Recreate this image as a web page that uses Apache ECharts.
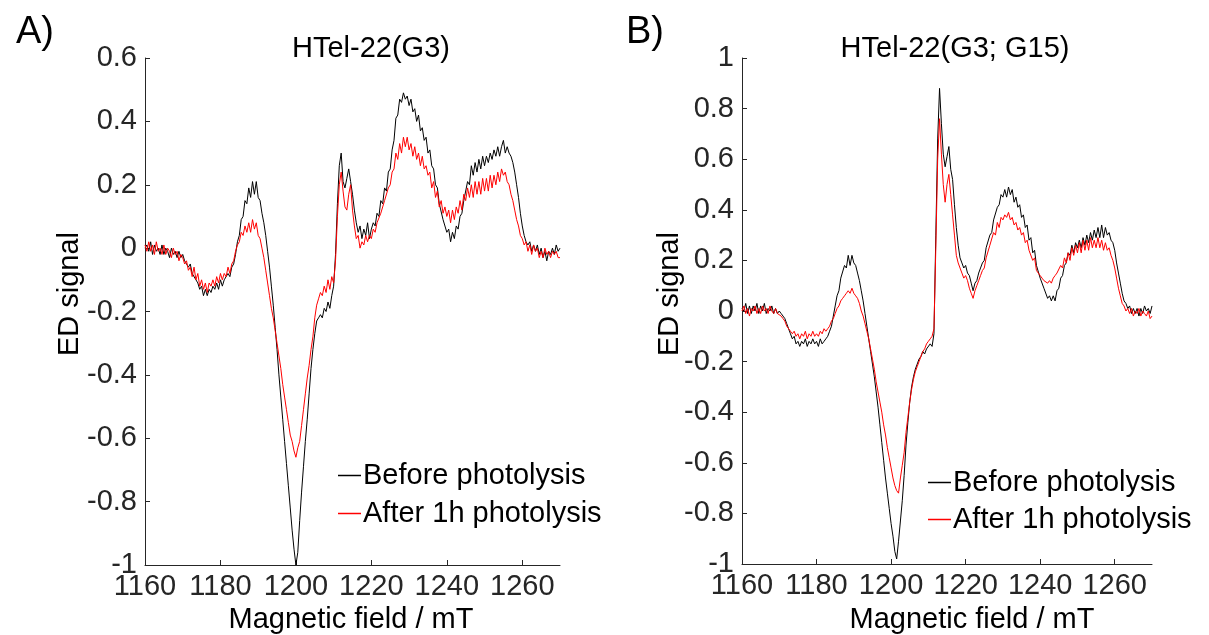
<!DOCTYPE html>
<html><head><meta charset="utf-8">
<script src="https://cdn.jsdelivr.net/npm/echarts@6/dist/echarts.min.js"></script>
<style>html,body{margin:0;padding:0;background:#fff}#c{width:1209px;height:635px}</style>
</head><body><div id="c"></div>
<script>
// ---- data (ED signal vs magnetic field, 0.5 mT sampling from 1160 mT) ----
const FIELD_START = 1160;
const FIELD_STEP = 0.5;
const X_TICKS = [1160, 1180, 1200, 1220, 1240, 1260];
const SERIES_NAMES = ['Before photolysis', 'After 1h photolysis'];
const TITLE_A = 'HTel-22(G3)';
const TITLE_B = 'HTel-22(G3; G15)';

const A_BEFORE = [
 0.00, 0.01, -0.01, 0.02, -0.02, 0.01, -0.01, 0.00, -0.02, 0.01,
 -0.02, 0.00, -0.01, -0.03, 0.00, -0.02, -0.01, -0.03, -0.01, -0.03,
 -0.02, -0.04, -0.04, -0.06, -0.05, -0.08, -0.08, -0.10, -0.11, -0.13,
 -0.12, -0.15, -0.13, -0.15, -0.13, -0.14, -0.12, -0.13, -0.11, -0.13,
 -0.10, -0.12, -0.10, -0.10, -0.08, -0.09, -0.06, -0.05, -0.02, 0.02,
 0.04, 0.09, 0.10, 0.15, 0.14, 0.19, 0.16, 0.21, 0.17, 0.21,
 0.16, 0.15, 0.11, 0.08, 0.04, -0.01, -0.06, -0.12, -0.18, -0.25,
 -0.32, -0.40, -0.47, -0.54, -0.61, -0.68, -0.75, -0.82, -0.89, -0.95,
 -1.00, -0.96, -0.86, -0.77, -0.69, -0.61, -0.54, -0.46, -0.38, -0.32,
 -0.27, -0.23, -0.22, -0.21, -0.22, -0.19, -0.20, -0.17, -0.19, -0.15,
 -0.12, -0.02, 0.14, 0.26, 0.30, 0.21, 0.19, 0.22, 0.25, 0.21,
 0.17, 0.12, 0.08, 0.05, 0.07, 0.03, 0.06, 0.04, 0.08, 0.03,
 0.06, 0.08, 0.07, 0.11, 0.10, 0.15, 0.14, 0.19, 0.18, 0.24,
 0.25, 0.31, 0.34, 0.41, 0.42, 0.47, 0.46, 0.49, 0.47, 0.48,
 0.45, 0.47, 0.43, 0.44, 0.40, 0.42, 0.37, 0.38, 0.34, 0.35,
 0.30, 0.31, 0.26, 0.25, 0.20, 0.19, 0.14, 0.14, 0.09, 0.09,
 0.05, 0.06, 0.02, 0.05, 0.03, 0.07, 0.06, 0.10, 0.11, 0.15,
 0.15, 0.21, 0.20, 0.26, 0.23, 0.27, 0.24, 0.28, 0.25, 0.29,
 0.26, 0.29, 0.27, 0.30, 0.28, 0.31, 0.29, 0.32, 0.29, 0.32,
 0.34, 0.30, 0.32, 0.30, 0.29, 0.27, 0.24, 0.20, 0.16, 0.11,
 0.07, 0.04, 0.02, 0.01, 0.02, -0.01, 0.01, -0.01, 0.01, -0.02,
 0.00, -0.03, -0.01, -0.04, -0.01, -0.02, 0.00, -0.02, 0.01, -0.01,
 0.00
];
const A_AFTER = [
 0.01, -0.01, 0.02, -0.01, 0.01, -0.02, 0.02, -0.01, 0.00, -0.02,
 0.01, -0.02, 0.00, -0.01, -0.03, 0.00, -0.02, -0.01, -0.04, -0.02,
 -0.03, -0.05, -0.04, -0.07, -0.06, -0.09, -0.06, -0.10, -0.08, -0.12,
 -0.10, -0.13, -0.11, -0.14, -0.11, -0.12, -0.10, -0.12, -0.09, -0.11,
 -0.08, -0.10, -0.08, -0.09, -0.06, -0.08, -0.05, -0.04, -0.01, 0.01,
 0.02, 0.05, 0.04, 0.07, 0.05, 0.08, 0.05, 0.09, 0.06, 0.08,
 0.04, 0.03, 0.00, -0.03, -0.07, -0.11, -0.15, -0.19, -0.22, -0.26,
 -0.30, -0.34, -0.38, -0.43, -0.47, -0.51, -0.55, -0.59, -0.61, -0.64,
 -0.66, -0.63, -0.61, -0.56, -0.51, -0.46, -0.41, -0.37, -0.32, -0.28,
 -0.22, -0.18, -0.16, -0.14, -0.15, -0.12, -0.14, -0.10, -0.13, -0.09,
 -0.11, -0.04, 0.10, 0.20, 0.24, 0.18, 0.13, 0.12, 0.17, 0.20,
 0.12, 0.07, 0.03, 0.04, 0.00, 0.02, 0.01, 0.04, 0.02, 0.04,
 0.03, 0.06, 0.05, 0.08, 0.08, 0.11, 0.11, 0.15, 0.15, 0.19,
 0.20, 0.24, 0.25, 0.30, 0.28, 0.33, 0.30, 0.35, 0.32, 0.35,
 0.31, 0.33, 0.29, 0.32, 0.28, 0.30, 0.26, 0.29, 0.25, 0.26,
 0.23, 0.24, 0.19, 0.21, 0.16, 0.18, 0.13, 0.15, 0.11, 0.13,
 0.10, 0.12, 0.08, 0.12, 0.09, 0.13, 0.11, 0.15, 0.12, 0.17,
 0.15, 0.19, 0.16, 0.20, 0.16, 0.21, 0.17, 0.21, 0.17, 0.22,
 0.18, 0.22, 0.18, 0.23, 0.19, 0.23, 0.20, 0.24, 0.21, 0.25,
 0.23, 0.24, 0.21, 0.20, 0.17, 0.15, 0.12, 0.09, 0.07, 0.04,
 0.03, 0.01, 0.02, -0.01, 0.01, -0.02, 0.01, -0.01, 0.00, -0.03,
 -0.01, -0.03, 0.00, -0.02, -0.01, -0.03, -0.01, -0.02, -0.01, -0.03,
 -0.03
];
const B_BEFORE = [
 0.01, 0.00, 0.03, -0.01, 0.02, -0.01, 0.02, 0.00, 0.03, -0.01,
 0.02, 0.00, 0.03, -0.01, 0.01, 0.00, 0.02, -0.01, 0.01, -0.01,
 0.00, -0.01, -0.02, -0.03, -0.05, -0.07, -0.09, -0.11, -0.10, -0.13,
 -0.12, -0.14, -0.12, -0.13, -0.11, -0.14, -0.12, -0.13, -0.11, -0.13,
 -0.12, -0.14, -0.11, -0.13, -0.12, -0.11, -0.10, -0.08, -0.06, -0.02,
 0.02, 0.06, 0.08, 0.13, 0.13, 0.18, 0.17, 0.22, 0.18, 0.22,
 0.19, 0.18, 0.15, 0.12, 0.08, 0.04, -0.01, -0.06, -0.11, -0.16,
 -0.21, -0.26, -0.32, -0.38, -0.45, -0.52, -0.59, -0.66, -0.72, -0.78,
 -0.84, -0.89, -0.95, -0.98, -0.91, -0.83, -0.75, -0.65, -0.53, -0.44,
 -0.36, -0.30, -0.26, -0.23, -0.21, -0.19, -0.18, -0.16, -0.17, -0.15,
 -0.15, -0.13, -0.14, -0.09, 0.30, 0.68, 0.88, 0.74, 0.62, 0.57,
 0.61, 0.65, 0.56, 0.52, 0.42, 0.33, 0.26, 0.21, 0.19, 0.17,
 0.18, 0.15, 0.14, 0.11, 0.08, 0.11, 0.12, 0.15, 0.17, 0.19,
 0.20, 0.25, 0.25, 0.30, 0.31, 0.36, 0.36, 0.41, 0.42, 0.46,
 0.45, 0.48, 0.45, 0.49, 0.46, 0.48, 0.43, 0.45, 0.41, 0.42,
 0.37, 0.38, 0.33, 0.34, 0.28, 0.29, 0.23, 0.24, 0.18, 0.18,
 0.13, 0.13, 0.09, 0.09, 0.05, 0.06, 0.04, 0.06, 0.04, 0.08,
 0.09, 0.13, 0.14, 0.18, 0.19, 0.23, 0.22, 0.26, 0.23, 0.27,
 0.25, 0.28, 0.25, 0.29, 0.26, 0.30, 0.27, 0.31, 0.28, 0.32,
 0.29, 0.33, 0.29, 0.34, 0.29, 0.33, 0.30, 0.31, 0.28, 0.27,
 0.24, 0.19, 0.15, 0.11, 0.07, 0.04, 0.03, 0.01, 0.02, -0.01,
 0.01, -0.01, 0.01, -0.02, 0.01, -0.01, 0.02, 0.00, 0.01, -0.01,
 0.02
];
const B_AFTER = [
 0.00, 0.02, -0.01, 0.01, -0.02, 0.01, 0.00, 0.02, -0.01, 0.01,
 -0.01, 0.02, 0.00, 0.01, -0.01, 0.02, 0.00, -0.01, 0.01, -0.01,
 -0.01, -0.02, -0.03, -0.04, -0.06, -0.06, -0.08, -0.09, -0.08, -0.10,
 -0.09, -0.11, -0.09, -0.10, -0.08, -0.11, -0.09, -0.10, -0.08, -0.10,
 -0.09, -0.10, -0.08, -0.09, -0.07, -0.08, -0.07, -0.06, -0.04, -0.03,
 -0.01, 0.01, 0.02, 0.04, 0.05, 0.06, 0.07, 0.08, 0.07, 0.09,
 0.07, 0.06, 0.05, 0.03, 0.00, -0.02, -0.05, -0.08, -0.11, -0.15,
 -0.19, -0.23, -0.28, -0.32, -0.36, -0.40, -0.45, -0.49, -0.54, -0.58,
 -0.62, -0.66, -0.69, -0.71, -0.72, -0.66, -0.61, -0.56, -0.48, -0.42,
 -0.36, -0.31, -0.27, -0.24, -0.22, -0.20, -0.18, -0.16, -0.15, -0.13,
 -0.12, -0.11, -0.10, -0.07, 0.25, 0.60, 0.76, 0.62, 0.50, 0.43,
 0.50, 0.54, 0.46, 0.38, 0.30, 0.22, 0.19, 0.17, 0.15, 0.13,
 0.14, 0.12, 0.09, 0.07, 0.05, 0.08, 0.10, 0.12, 0.14, 0.16,
 0.17, 0.21, 0.21, 0.26, 0.26, 0.31, 0.30, 0.35, 0.33, 0.37,
 0.36, 0.38, 0.37, 0.39, 0.36, 0.37, 0.34, 0.35, 0.32, 0.33,
 0.30, 0.31, 0.27, 0.28, 0.24, 0.24, 0.20, 0.21, 0.16, 0.16,
 0.14, 0.13, 0.12, 0.12, 0.11, 0.12, 0.11, 0.13, 0.14, 0.15,
 0.15, 0.18, 0.17, 0.21, 0.19, 0.23, 0.20, 0.25, 0.22, 0.26,
 0.23, 0.27, 0.23, 0.28, 0.24, 0.28, 0.24, 0.29, 0.25, 0.28,
 0.25, 0.29, 0.25, 0.28, 0.24, 0.27, 0.24, 0.25, 0.22, 0.20,
 0.17, 0.13, 0.09, 0.06, 0.03, 0.02, 0.00, 0.01, -0.01, 0.01,
 -0.02, 0.00, -0.01, 0.01, -0.02, 0.00, -0.01, -0.02, 0.00, -0.03,
 -0.02
];

// ---- build ----
const FIELD = A_BEFORE.map((_, i) => FIELD_START + i * FIELD_STEP);
const pairs = arr => arr.map((v, i) => [FIELD[i], v]);

const FONT = '"Liberation Sans", Arial, Helvetica, sans-serif';
const AX = '#262626';
const FS = 29;

function xAxisCfg(gi) {
  return {
    gridIndex: gi, type: 'value', min: 1160, max: 1270,
    axisLine: { onZero: false, lineStyle: { color: AX, width: 1 } },
    axisTick: { inside: true, length: 5, customValues: X_TICKS, lineStyle: { color: AX } },
    axisLabel: { customValues: X_TICKS, fontSize: FS, fontFamily: FONT, color: AX, margin: 7,
      formatter: v => String(v) },
    splitLine: { show: false }
  };
}
function yAxisCfg(gi, min, max) {
  return {
    gridIndex: gi, type: 'value', min: min, max: max, interval: 0.2,
    axisLine: { show: true, onZero: false, lineStyle: { color: AX, width: 1 } },
    axisTick: { show: true, inside: true, length: 5, lineStyle: { color: AX } },
    axisLabel: { fontSize: FS, fontFamily: FONT, color: AX, margin: 8,
      formatter: v => String(+(+v).toFixed(1)) },
    splitLine: { show: false }
  };
}
function lineSeries(name, data, color, gi) {
  return {
    type: 'line', name: name, xAxisIndex: gi, yAxisIndex: gi,
    data: pairs(data), showSymbol: false, symbol: 'none',
    lineStyle: { color: color, width: 1 }, itemStyle: { color: color },
    silent: true, animation: false
  };
}
function txt(x, y, text, size, rot) {
  return {
    type: 'text', x: x, y: y, rotation: rot || 0,
    style: { text: text, font: size + 'px ' + FONT, fill: '#000',
      textAlign: 'center', textVerticalAlign: 'middle' }
  };
}
function legendCfg(left, top, gap) {
  return {
    orient: 'vertical', left: left, top: top, data: SERIES_NAMES,
    icon: 'rect', itemWidth: 23, itemHeight: 1.5, itemGap: gap,
    selectedMode: false,
    textStyle: { fontSize: FS, fontFamily: FONT, color: '#000', lineHeight: 28, padding: [0, 0, 0, -3] }
  };
}

const chart = echarts.init(document.getElementById('c'), null, { renderer: 'canvas' });
chart.setOption({
  backgroundColor: '#fff',
  animation: false,
  grid: [
    { left: 145, top: 58, width: 415, height: 507 },
    { left: 742, top: 58, width: 410, height: 506 }
  ],
  xAxis: [xAxisCfg(0), xAxisCfg(1)],
  yAxis: [yAxisCfg(0, -1, 0.6), yAxisCfg(1, -1, 1)],
  legend: [legendCfg(333, 456, 9), legendCfg(923, 463, 8)],
  series: [
    lineSeries(SERIES_NAMES[0], A_BEFORE, '#000000', 0),
    lineSeries(SERIES_NAMES[1], A_AFTER, '#ff0000', 0),
    lineSeries(SERIES_NAMES[0], B_BEFORE, '#000000', 1),
    lineSeries(SERIES_NAMES[1], B_AFTER, '#ff0000', 1)
  ],
  graphic: [
    txt(35, 33, 'A)', 38),
    txt(645, 33, 'B)', 38),
    txt(371, 49, TITLE_A, FS),
    txt(955, 49, TITLE_B, FS),
    txt(351, 620, 'Magnetic field / mT', FS),
    txt(972, 620, 'Magnetic field / mT', FS),
    txt(70, 294, 'ED signal', FS, Math.PI / 2),
    txt(670, 294, 'ED signal', FS, Math.PI / 2)
  ]
});
</script>
</body></html>
